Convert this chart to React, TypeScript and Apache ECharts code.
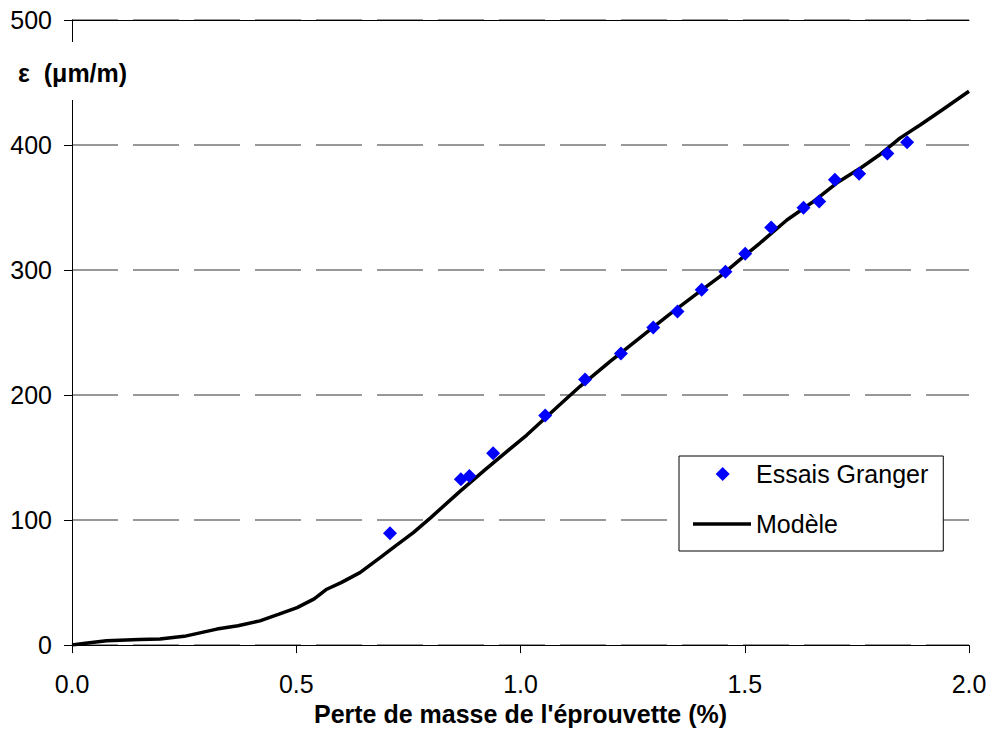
import React, { useEffect, useRef } from "react";
import * as echarts from "echarts";

const essaisX = [0.709, 0.867, 0.886, 0.939, 1.055, 1.144, 1.224, 1.296, 1.35, 1.404, 1.457, 1.501, 1.559, 1.631, 1.666, 1.701, 1.755, 1.818, 1.862];
const essaisY = [89.5, 132.6, 135.3, 153.4, 183.7, 212.5, 233.2, 254, 266.8, 284.3, 298.7, 313.1, 334.1, 349.8, 354.9, 372.2, 377, 393.2, 402.3];

const modeleX = [0, 0.03, 0.077, 0.15, 0.196, 0.25, 0.323, 0.37, 0.419, 0.46, 0.502, 0.54, 0.568, 0.6, 0.642, 0.687, 0.72, 0.761, 0.8, 0.865, 0.92, 0.97, 1.014, 1.088, 1.133, 1.2, 1.266, 1.33, 1.4, 1.445, 1.5, 1.534, 1.594, 1.65, 1.705, 1.76, 1.8, 1.846, 1.891, 1.94, 2.0];
const modeleY = [0, 1.5, 3.4, 4.5, 4.8, 7, 12.8, 15.5, 19.4, 24.5, 30, 37, 44.7, 50, 58, 70, 79, 90, 102, 123, 140, 155, 168, 192.5, 207, 227, 245.8, 264, 283, 295, 311.5, 321.6, 340, 354, 369.6, 382, 392, 405.5, 416, 428, 443];

const FONT = "Arial, 'Liberation Sans', sans-serif";

const DIAMOND_ICON = "path://M0,7L0,7M58,7L58,7M29.7,0L36.7,7L29.7,14L22.7,7Z";
const LINE_ICON = "path://M0,0L0,0M0,14L0,14M0,5.25L58,5.25L58,8.75L0,8.75Z";

export default function App() {
  const ref = useRef<HTMLDivElement>(null);
  useEffect(() => {
    if (!ref.current) return;
    const chart = echarts.init(ref.current, null, { renderer: "svg" });
    chart.setOption({
      animation: false,
      backgroundColor: "#fff",
      grid: { left: 72, top: 20, right: 25, bottom: 85 },
      xAxis: [
        {
          type: "value",
          min: 0,
          max: 2,
          interval: 0.5,
          name: "Perte de masse de l'éprouvette (%)",
          nameLocation: "middle",
          nameGap: 52,
          nameTextStyle: { fontFamily: FONT, fontSize: 25, fontWeight: "bold", color: "#000" },
          axisLine: { lineStyle: { color: "#000", width: 1 } },
          axisTick: { show: true, length: 8, inside: false, lineStyle: { color: "#000" } },
          axisLabel: { fontFamily: FONT, fontSize: 25, color: "#000", margin: 26, formatter: (v: number) => v.toFixed(1) },
          splitLine: { show: false },
        },
        {
          type: "value",
          position: "top",
          min: 0,
          max: 2,
          interval: 0.5,
          axisLine: { show: true, lineStyle: { color: "#000", width: 1 } },
          axisTick: { show: false },
          axisLabel: { show: false },
          splitLine: { show: false },
        },
      ],
      yAxis: {
        type: "value",
        min: 0,
        max: 500,
        interval: 100,
        axisLine: { show: true, lineStyle: { color: "#000", width: 1 } },
        axisTick: { show: true, length: 8, lineStyle: { color: "#000" } },
        axisLabel: { fontFamily: FONT, fontSize: 25, color: "#000", margin: 20 },
        splitLine: { show: true, lineStyle: { color: "#777", width: 1.5, type: [46, 15] } },
      },
      legend: {
        orient: "vertical",
        left: 679,
        top: 456,
        padding: [4, 15, 13, 14],
        itemGap: 22,
        itemWidth: 58,
        itemHeight: 14,
        borderColor: "#000",
        borderWidth: 1,
        backgroundColor: "#fff",
        textStyle: { fontFamily: FONT, fontSize: 25, color: "#000", lineHeight: 28 },
        data: [
          { name: "Essais Granger", icon: DIAMOND_ICON, itemStyle: { color: "#0000ff" } },
          { name: "Modèle", icon: LINE_ICON, itemStyle: { color: "#000" } },
        ],
      },
      graphic: [
        {
          type: "text",
          left: 14,
          top: 42,
          z: 100,
          style: {
            text: "ε  (μm/m)",
            fontFamily: FONT,
            fontSize: 25,
            fontWeight: "bold",
            fill: "#000",
            backgroundColor: "#fff",
            padding: [18, 4, 15, 4],
          },
        },
      ],
      series: [
        {
          name: "Modèle",
          type: "line",
          data: modeleX.map((x, i) => [x, modeleY[i]]),
          showSymbol: false,
          symbol: "none",
          lineStyle: { color: "#000", width: 3.5 },
          itemStyle: { color: "#000" },
          z: 2,
        },
        {
          name: "Essais Granger",
          type: "scatter",
          data: essaisX.map((x, i) => [x, essaisY[i]]),
          symbol: "diamond",
          symbolSize: 14,
          itemStyle: { color: "#0000ff", opacity: 1 },
          z: 3,
        },
      ],
    });
    return () => chart.dispose();
  }, []);
  return <div ref={ref} style={{ width: 994, height: 731, position: "absolute", left: 0, top: 0 }} />;
}
